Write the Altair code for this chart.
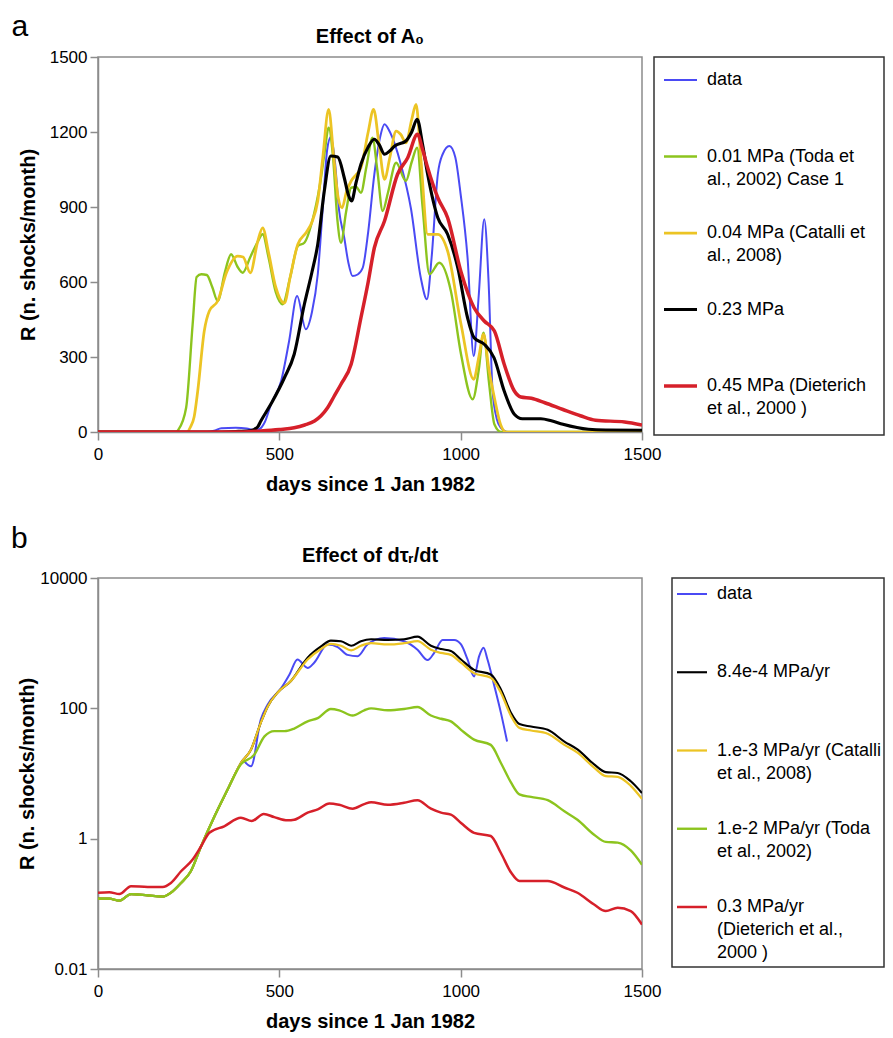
import altair as alt
import pandas as pd

FONT = "Liberation Sans"

# ---------------- shared ticks ----------------
X_TICKS = [0, 500, 1000, 1500]
A_Y_TICKS = [0, 300, 600, 900, 1200, 1500]
B_Y_TICKS = [0.01, 1, 100, 10000]

# ---------------- panel a: series ----------------
A_NAMES = ["data", "0.01 MPa", "0.04 MPa", "0.23 MPa", "0.45 MPa"]
A_LABELS = ["data",
            "0.01 MPa (Toda et\nal., 2002) Case 1",
            "0.04 MPa (Catalli et\nal., 2008)",
            "0.23 MPa",
            "0.45 MPa (Dieterich\net al., 2000 )"]
A_COLORS = ["#4a4af4", "#8cc41e", "#ecc424", "#000000", "#d6202a"]
A_WIDTHS = [2, 3.5, 3.5, 3.5, 3.5]

A_DATA_DAY = [0, 300, 320, 340, 380, 410, 430, 445, 460, 477, 505, 527, 549, 573, 590, 606, 620, 632,
              642, 652, 665, 679, 690, 702, 716, 730, 745, 762, 778, 790, 805, 835, 863, 890, 907, 920,
              937, 950, 969, 985, 1000, 1019, 1036, 1050, 1065, 1077, 1088, 1100, 1111, 1130, 1500]
A_DATA_R = [0, 0, 5, 15, 17, 14, 8, 12, 40, 111, 204, 364, 544, 411, 480, 631, 900, 1130,
            1180, 1100, 884, 777, 680, 624, 630, 657, 800, 1031, 1180, 1231, 1200, 1071, 893, 617, 531, 700,
            1031, 1110, 1144, 1100, 950, 697, 304, 550, 851, 600, 164, 50, 17, 0, 0]

A_G_DAY = [0, 215, 222, 243, 261, 272, 285, 300, 315, 330, 350, 367, 385, 399, 420, 440, 454, 470, 490,
           509, 530, 551, 569, 590, 612, 625, 636, 648, 660, 670, 684, 698, 712, 725, 740, 757, 770, 785,
           800, 822, 849, 865, 880, 895, 914, 941, 973, 1001, 1033, 1050, 1063, 1078, 1093, 1111, 1500]
A_G_R = [0, 0, 10, 97, 431, 620, 631, 628, 580, 524, 640, 711, 660, 637, 700, 760, 791, 700, 560,
         511, 620, 744, 757, 840, 990, 1120, 1217, 1100, 850, 757, 880, 977, 980, 957, 1060, 1177, 1050, 884,
         960, 1077, 1004, 1080, 1137, 900, 631, 677, 564, 311, 131, 250, 397, 200, 31, 0, 0]

A_Y_DAY = [0, 245, 255, 265, 275, 293, 307, 330, 355, 385, 400, 420, 440, 454, 470, 490, 514, 530, 551,
           575, 590, 606, 620, 636, 650, 662, 673, 685, 698, 712, 725, 745, 760, 775, 790, 805, 822, 835,
           849, 865, 877, 890, 909, 937, 964, 1001, 1036, 1050, 1063, 1078, 1093, 1110, 1125, 1500]
A_Y_R = [0, 0, 20, 60, 164, 404, 484, 524, 640, 704, 700, 637, 760, 817, 720, 580, 516, 620, 751,
         800, 840, 924, 1100, 1291, 1100, 940, 897, 960, 1004, 1030, 1057, 1200, 1291, 1150, 1011, 1100, 1204, 1190,
         1157, 1250, 1311, 1100, 791, 791, 724, 431, 211, 300, 391, 250, 137, 30, 0, 0]

A_K_DAY = [0, 300, 380, 420, 440, 449, 480, 514, 541, 569, 590, 606, 624, 642, 661, 679, 690, 699, 712,
           725, 745, 762, 775, 790, 805, 818, 849, 865, 880, 895, 909, 937, 964, 992, 1019, 1037, 1065,
           1092, 1120, 1148, 1170, 1221, 1250, 1282, 1352, 1400, 1500]
A_K_R = [0, 0, 2, 5, 20, 44, 120, 217, 311, 511, 640, 751, 964, 1104, 1100, 1017, 950, 924, 1000,
         1071, 1140, 1171, 1150, 1111, 1125, 1144, 1164, 1200, 1251, 1150, 1031, 857, 791, 657, 457, 377, 351,
         297, 164, 71, 53, 53, 45, 31, 11, 8, 7]

A_R_DAY = [0, 400, 449, 500, 541, 570, 597, 615, 633, 650, 670, 698, 725, 745, 762, 790, 826, 854, 881,
           895, 909, 937, 964, 1001, 1037, 1065, 1093, 1120, 1148, 1166, 1195, 1232, 1282, 1330, 1372, 1452, 1500]
A_R_R = [0, 0, 4, 10, 17, 28, 44, 65, 97, 140, 191, 271, 457, 600, 737, 844, 1031, 1097, 1191,
         1130, 1057, 937, 857, 640, 497, 444, 404, 271, 164, 140, 135, 117, 90, 65, 47, 40, 28]

# ---------------- panel b: series ----------------
B_NAMES = ["data ", "8.4e-4 MPa/yr", "1.e-3 MPa/yr", "1.e-2 MPa/yr", "0.3 MPa/yr"]
B_LABELS = ["data",
            "8.4e-4 MPa/yr",
            "1.e-3 MPa/yr (Catalli\net al., 2008)",
            "1.e-2 MPa/yr (Toda\net al., 2002)",
            "0.3 MPa/yr\n(Dieterich et al.,\n2000 )"]
B_COLORS = ["#4a4af4", "#000000", "#ecc424", "#8cc41e", "#d6202a"]
B_WIDTHS = [2, 2.5, 3.5, 3, 3]

B_DATA_DAY = [400, 422, 449, 468, 505, 528, 550, 578, 596, 633, 661, 688, 716, 743, 789, 844, 881, 909,
              927, 950, 982, 1001, 1019, 1037, 1051, 1063, 1074, 1093, 1111, 1128]
B_DATA_R = [16.2, 12.9, 67.6, 115, 204, 331, 562, 417, 501, 955, 871, 661, 631, 955, 1202, 1072, 794, 550,
            708, 1122, 1122, 955, 562, 309, 631, 851, 562, 219, 85.1, 30.9]

B_MOD_DAY = [0, 31, 59, 91, 137, 178, 201, 229, 256, 284, 321, 357, 394, 422, 449, 468, 495, 532, 578,
             615, 642, 670, 698, 725, 753, 799, 844, 881, 918, 946, 973, 1001, 1037, 1083, 1111, 1139,
             1162, 1194, 1240, 1286, 1322, 1368, 1400, 1433, 1469, 1500]
B_K_R = [0.120, 0.120, 0.112, 0.141, 0.135, 0.129, 0.148, 0.209, 0.316, 0.759, 2.19, 5.62, 14.5, 23.4,
         60.3, 107, 174, 263, 600, 891, 1096, 1072, 912, 1072, 1148, 1122, 1148, 1259, 912, 813, 759, 562,
         389, 331, 195, 85.1, 57.5, 52.5, 46.8, 30.9, 23.4, 13.8, 10.5, 10.2, 7.59, 5.01]
B_Y_R = [0.120, 0.120, 0.112, 0.141, 0.135, 0.129, 0.148, 0.209, 0.316, 0.759, 2.19, 5.62, 14.5, 23.4,
         60.3, 107, 174, 263, 562, 813, 977, 912, 776, 912, 1000, 955, 1000, 1072, 794, 708, 661, 501,
         347, 295, 174, 75.9, 50.1, 45.7, 40.7, 27.5, 20.9, 12.3, 9.12, 8.91, 6.46, 4.07]

B_G_DAY = [0, 31, 59, 91, 137, 178, 201, 229, 256, 284, 321, 357, 394, 431, 459, 486, 514, 541, 578,
           606, 642, 665, 702, 734, 753, 799, 844, 881, 918, 946, 973, 1001, 1037, 1083, 1111, 1139,
           1162, 1194, 1240, 1286, 1322, 1368, 1400, 1433, 1469, 1500]
B_G_R = [0.120, 0.120, 0.112, 0.141, 0.135, 0.129, 0.148, 0.209, 0.316, 0.759, 2.19, 5.62, 13.8, 19.5,
         37.2, 44.7, 44.7, 49.0, 63.1, 70.8, 97.7, 93.3, 77.6, 93.3, 100, 93.3, 97.7, 105, 77.6, 69.2, 63.1,
         46.8, 33.1, 27.5, 14.5, 7.24, 4.79, 4.37, 3.89, 2.63, 1.95, 1.15, 0.891, 0.871, 0.661, 0.398]

B_R_DAY = [0, 31, 59, 91, 137, 178, 201, 229, 261, 284, 307, 348, 394, 424, 457, 486, 523, 541, 578,
           606, 638, 665, 702, 734, 753, 799, 844, 881, 918, 946, 973, 1001, 1037, 1083, 1111, 1139,
           1162, 1194, 1240, 1286, 1322, 1368, 1400, 1433, 1469, 1500]
B_R_R = [0.148, 0.151, 0.141, 0.186, 0.182, 0.182, 0.209, 0.316, 0.479, 0.759, 1.23, 1.55, 2.09, 1.86,
         2.40, 2.14, 1.91, 1.95, 2.51, 2.82, 3.47, 3.31, 2.88, 3.39, 3.63, 3.31, 3.55, 3.89, 2.88, 2.51,
         2.34, 1.74, 1.23, 1.10, 0.603, 0.302, 0.224, 0.224, 0.224, 0.178, 0.148, 0.0977, 0.0776, 0.0871,
         0.0776, 0.0479]


def long_frame(names, days, vals):
    rows = []
    for n, d, v in zip(names, days, vals):
        rows += [{"series": n, "day": x, "R": y} for x, y in zip(d, v)]
    return pd.DataFrame(rows)


df_a = long_frame(A_NAMES, [A_DATA_DAY, A_G_DAY, A_Y_DAY, A_K_DAY, A_R_DAY],
                  [A_DATA_R, A_G_R, A_Y_R, A_K_R, A_R_R])
df_b = long_frame(B_NAMES, [B_DATA_DAY, B_MOD_DAY, B_MOD_DAY, B_G_DAY, B_R_DAY],
                  [B_DATA_R, B_K_R, B_Y_R, B_G_R, B_R_R])


def panel(df, names, colors, widths, yscale, yvalues, yfmt, ytitle_pad, height, title, toff):
    cscale = alt.Scale(domain=names, range=colors)
    wscale = alt.Scale(domain=names, range=widths)
    x = alt.X("day:Q", scale=alt.Scale(domain=[0, 1500], nice=False),
              axis=alt.Axis(values=X_TICKS, title="days since 1 Jan 1982", format="d",
                            labelPadding=6, titlePadding=12))
    y = alt.Y("R:Q", scale=yscale,
              axis=alt.Axis(values=yvalues, title="R (n. shocks/month)", format=yfmt,
                            titlePadding=ytitle_pad))
    layers = []
    for n in names:
        layers.append(
            alt.Chart().transform_filter(alt.datum.series == n)
            .mark_line(interpolate="monotone", clip=True)
            .encode(x=x, y=y,
                    color=alt.Color("series:N", scale=cscale, legend=None),
                    strokeWidth=alt.StrokeWidth("series:N", scale=wscale, legend=None))
        )
    return alt.layer(*layers, data=df).properties(
        width=544, height=height,
        title=alt.TitleParams(title, fontSize=20, fontWeight="bold", frame="group",
                              anchor="middle", offset=toff),
        view=alt.ViewBackground(stroke="#8c8c8c", strokeWidth=1.5),
    )


def legend_box(names, labels, colors, widths, w, h, yrange, x0, x1, xt):
    ldf = pd.DataFrame({"series": names, "label": labels, "idx": list(range(len(names)))})
    y = alt.Y("idx:Q", scale=alt.Scale(domain=[0, len(names) - 1], range=yrange, nice=False, zero=False),
              axis=None)
    base = alt.Chart(ldf)
    sym = base.mark_rule().encode(
        x=alt.value(x0), x2=alt.value(x1), y=y,
        color=alt.Color("series:N", scale=alt.Scale(domain=names, range=colors), legend=None),
        strokeWidth=alt.StrokeWidth("series:N", scale=alt.Scale(domain=names, range=widths), legend=None),
    )
    txt = base.mark_text(align="left", baseline="middle", fontSize=18, lineBreak="\n",
                         lineHeight=23, font=FONT, color="#000").encode(
        x=alt.value(xt), y=y, text="label:N")
    return alt.layer(sym, txt).properties(
        width=w, height=h, view=alt.ViewBackground(stroke="#333333", strokeWidth=1.5))


panel_a = panel(df_a, A_NAMES, A_COLORS, A_WIDTHS,
                alt.Scale(domain=[0, 1500], nice=False), A_Y_TICKS, "d", 11, 375,
                "Effect of A\u2080", 1)
panel_b = panel(df_b, B_NAMES, B_COLORS, B_WIDTHS,
                alt.Scale(type="log", domain=[0.01, 10000], nice=False), B_Y_TICKS, "~g", 2, 391,
                "Effect of d\u03c4\u1d63/dt", 3)

legend_a = legend_box(A_NAMES, A_LABELS, A_COLORS, A_WIDTHS, 230, 378, [23, 329], 10, 43, 53)
legend_b = legend_box(B_NAMES, B_LABELS, B_COLORS, B_WIDTHS, 212, 389, [16, 329], 5, 35, 45)

row_a = alt.hconcat(panel_a, legend_a, spacing=12, bounds="flush",
                    title=alt.TitleParams("a", anchor="start", fontSize=30, fontWeight="normal",
                                          offset=-16, dx=-6))
row_b = alt.hconcat(panel_b, legend_b, spacing=30, bounds="flush",
                    title=alt.TitleParams("b", anchor="start", fontSize=30, fontWeight="normal",
                                          offset=-9, dx=-6))

chart = alt.vconcat(row_a, row_b, spacing=29,
                    padding={"left": 2, "top": 4, "right": 0, "bottom": 0}).resolve_scale(
    color="independent", strokeWidth="independent"
).configure(
    font=FONT
).configure_axis(
    labelFont=FONT, titleFont=FONT, labelFontSize=17, titleFontSize=20, titleFontWeight="bold",
    labelColor="#000000", titleColor="#000000", domainColor="#8c8c8c", tickColor="#8c8c8c",
    domainWidth=1.5, tickWidth=1.5, tickSize=8, labelPadding=3, grid=False,
    labelFlush=False, labelOverlap=False
).configure_title(font=FONT, color="#000000")

chart.save("out.html", embed_options={"renderer": "svg", "actions": False})
